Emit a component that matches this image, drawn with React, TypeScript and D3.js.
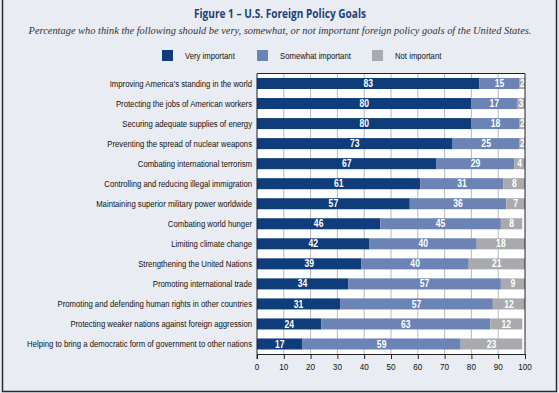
import React, { useRef, useEffect } from 'react';
import * as d3 from 'd3';

// --- Data ---
const goals = [
  "Improving America's standing in the world",
  'Protecting the jobs of American workers',
  'Securing adequate supplies of energy',
  'Preventing the spread of nuclear weapons',
  'Combating international terrorism',
  'Controlling and reducing illegal immigration',
  'Maintaining superior military power worldwide',
  'Combating world hunger',
  'Limiting climate change',
  'Strengthening the United Nations',
  'Promoting international trade',
  'Promoting and defending human rights in other countries',
  'Protecting weaker nations against foreign aggression',
  'Helping to bring a democratic form of government to other nations',
];
const veryImportant = [83, 80, 80, 73, 67, 61, 57, 46, 42, 39, 34, 31, 24, 17];
const somewhatImportant = [15, 17, 18, 25, 29, 31, 36, 45, 40, 40, 57, 57, 63, 59];
const notImportant = [2, 3, 2, 2, 4, 8, 7, 8, 18, 21, 9, 12, 12, 23];
const seriesNames = ['Very important', 'Somewhat important', 'Not important'];
const xTicks = [0, 10, 20, 30, 40, 50, 60, 70, 80, 90, 100];

const colors = ['#0f3c7b', '#6b83b5', '#a8aaae'];
const sans = '"Liberation Sans", Arial, sans-serif';
const squeeze = 0.86; // no narrow font installed, so squash Arial horizontally

const App = () => {
  const ref = useRef<SVGSVGElement>(null);

  useEffect(() => {
    const svg = d3.select(ref.current);
    svg.selectAll('*').remove();

    const W = 559, H = 393;
    const plot = { left: 257, right: 525, top: 73.5, bottom: 354 };

    // narrow-looking text at (x, y)
    const narrowText = (parent: any, x: number, y: number, txt: string | number, anchor = 'start', size = 9) =>
      parent.append('text')
        .attr('transform', `translate(${x},${y}) scale(${squeeze},1)`)
        .attr('text-anchor', anchor)
        .attr('font-family', sans).attr('font-size', size)
        .attr('fill', '#111')
        .text(txt);

    // background + frame
    svg.append('rect').attr('width', W).attr('height', H).attr('fill', '#e9ecf3');
    svg.append('path')
      .attr('d', `M2.5,0 V391.5 H556.5 V0`)
      .attr('fill', 'none').attr('stroke', '#2a2a2a').attr('stroke-width', 1.5);

    // title
    svg.append('text')
      .attr('x', 280).attr('y', 18).attr('text-anchor', 'middle')
      .attr('font-family', '"Open Sans", sans-serif').attr('font-weight', 'bold')
      .attr('font-size', 12).attr('fill', '#1e3f78')
      .attr('textLength', 172).attr('lengthAdjust', 'spacingAndGlyphs')
      .text('Figure 1 – U.S. Foreign Policy Goals');
    svg.append('text')
      .attr('x', 280).attr('y', 34).attr('text-anchor', 'middle')
      .attr('font-family', '"Liberation Serif", serif').attr('font-style', 'italic')
      .attr('font-size', 10.4).attr('fill', '#333')
      .text('Percentage who think the following should be very, somewhat, or not important foreign policy goals of the United States.');

    // legend
    const legendX = [162, 257, 372];
    seriesNames.forEach((name, i) => {
      svg.append('rect')
        .attr('x', legendX[i]).attr('y', 50).attr('width', 11).attr('height', 11)
        .attr('fill', colors[i]);
      narrowText(svg, legendX[i] + 23, 59, name);
    });

    // scales
    const x = d3.scaleLinear().domain([0, 100]).range([plot.left, plot.right]);
    const y = d3.scaleBand<string>()
      .domain(goals)
      .range([plot.top, plot.bottom])
      .paddingInner(0.45)
      .paddingOuter(0.225);

    // plot area
    svg.append('rect')
      .attr('x', plot.left).attr('y', plot.top)
      .attr('width', plot.right - plot.left).attr('height', plot.bottom - plot.top)
      .attr('fill', '#fff');

    // grid
    svg.append('g')
      .selectAll('line')
      .data(xTicks.slice(1, -1))
      .enter().append('line')
      .attr('x1', d => x(d)).attr('x2', d => x(d))
      .attr('y1', plot.top).attr('y2', plot.bottom)
      .attr('stroke', '#8a8a8a').attr('stroke-width', 0.6);

    // stacked bars
    const rows = goals.map((g, i) => ({ goal: g, vals: [veryImportant[i], somewhatImportant[i], notImportant[i]] }));
    const barG = svg.append('g');
    rows.forEach(r => {
      let acc = 0;
      r.vals.forEach((v, k) => {
        const x0 = x(acc), x1 = x(acc + v);
        barG.append('rect')
          .attr('x', x0).attr('y', y(r.goal)!)
          .attr('width', x1 - x0).attr('height', y.bandwidth())
          .attr('fill', colors[k]);
        narrowText(barG, (x0 + x1) / 2, y(r.goal)! + y.bandwidth() / 2 + 3.6, v, 'middle', 10)
          .attr('font-weight', 'bold').attr('fill', '#fff');
        acc += v;
      });
    });

    // plot border top/right
    svg.append('path')
      .attr('d', `M${plot.left},${plot.top} H${plot.right} V${plot.bottom}`)
      .attr('fill', 'none').attr('stroke', '#222').attr('stroke-width', 1);

    // category labels
    const labG = svg.append('g');
    goals.forEach(g => {
      narrowText(labG, 252, y(g)! + y.bandwidth() / 2 + 3.2, g, 'end');
    });

    // x axis
    const xAxis = svg.append('g')
      .attr('transform', `translate(0,${plot.bottom})`)
      .call(d3.axisBottom(x).tickValues(xTicks).tickSize(5).tickFormat(() => ''));
    xAxis.select('.domain').attr('stroke', '#222');
    xAxis.selectAll('.tick line').attr('stroke', '#222');
    const tickG = svg.append('g');
    xTicks.forEach(t => narrowText(tickG, x(t), plot.bottom + 16, t, 'middle', 9.5));

    // y axis line
    svg.append('line')
      .attr('x1', plot.left).attr('x2', plot.left)
      .attr('y1', plot.top).attr('y2', plot.bottom + 5)
      .attr('stroke', '#222').attr('stroke-width', 1);
  }, []);

  return (
    <svg ref={ref} width={559} height={393}
      style={{ position: 'absolute', left: 0, top: 0, display: 'block' }} />
  );
};

export default App;
